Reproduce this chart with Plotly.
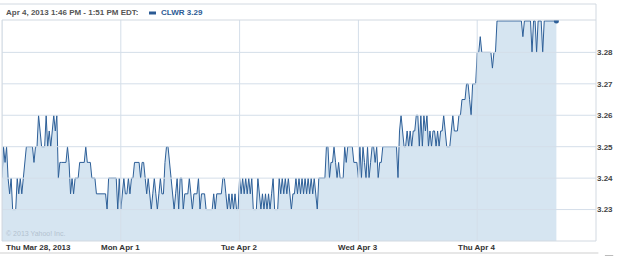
import plotly.graph_objects as go

# 5-minute quotes per trading day (9:30 onward)
mar28 = [3.24, 3.25, 3.245, 3.25, 3.24, 3.235, 3.24, 3.23, 3.23, 3.23,
         3.24, 3.235, 3.24, 3.235, 3.24, 3.245, 3.25, 3.25, 3.25, 3.25,
         3.25, 3.245, 3.25, 3.25, 3.26, 3.255, 3.25, 3.25, 3.25, 3.26,
         3.25, 3.255, 3.25, 3.255, 3.26, 3.255, 3.26, 3.24, 3.245, 3.245,
         3.245, 3.245, 3.245, 3.25, 3.245, 3.235, 3.24, 3.235, 3.24, 3.24,
         3.24, 3.245, 3.245, 3.245, 3.245, 3.25, 3.245, 3.245, 3.245, 3.24,
         3.24, 3.24, 3.235, 3.235, 3.235, 3.235, 3.235, 3.235, 3.235, 3.23,
         3.24, 3.24, 3.24, 3.24, 3.24, 3.24, 3.23, 3.24]
apr1 = [3.23, 3.235, 3.24, 3.235, 3.235, 3.24, 3.235, 3.24, 3.24, 3.245,
        3.245, 3.245, 3.245, 3.24, 3.245, 3.245, 3.24, 3.235, 3.24, 3.235,
        3.23, 3.235, 3.24, 3.235, 3.23, 3.235, 3.24, 3.235, 3.235, 3.245,
        3.25, 3.25, 3.245, 3.24, 3.235, 3.23, 3.235, 3.24, 3.23, 3.24,
        3.24, 3.23, 3.235, 3.235, 3.235, 3.24, 3.235, 3.23, 3.235, 3.235,
        3.235, 3.24, 3.23, 3.235, 3.235, 3.235, 3.23, 3.23, 3.23, 3.23,
        3.23, 3.235, 3.23, 3.235, 3.235, 3.235, 3.235, 3.24, 3.24, 3.235,
        3.23, 3.235, 3.23, 3.235, 3.23, 3.235, 3.23, 3.23]
apr2 = [3.24, 3.235, 3.24, 3.235, 3.24, 3.235, 3.24, 3.235, 3.24, 3.23,
        3.23, 3.23, 3.24, 3.235, 3.23, 3.235, 3.23, 3.235, 3.23, 3.235,
        3.23, 3.235, 3.24, 3.23, 3.23, 3.23, 3.24, 3.235, 3.24, 3.235,
        3.24, 3.235, 3.24, 3.235, 3.23, 3.235, 3.235, 3.24, 3.235, 3.24,
        3.235, 3.24, 3.235, 3.24, 3.235, 3.24, 3.235, 3.24, 3.235, 3.24,
        3.235, 3.23, 3.24, 3.24, 3.24, 3.24, 3.24, 3.25, 3.25, 3.24,
        3.245, 3.245, 3.25, 3.245, 3.24, 3.245, 3.24, 3.24, 3.24, 3.25,
        3.245, 3.25, 3.25, 3.25, 3.25, 3.245, 3.245, 3.245]
apr3 = [3.24, 3.25, 3.24, 3.25, 3.245, 3.24, 3.25, 3.24, 3.245, 3.25,
        3.25, 3.245, 3.25, 3.24, 3.245, 3.245, 3.25, 3.25, 3.25, 3.25,
        3.25, 3.25, 3.25, 3.25, 3.25, 3.25, 3.24, 3.255, 3.26, 3.255,
        3.25, 3.25, 3.255, 3.25, 3.255, 3.25, 3.255, 3.255, 3.26, 3.26,
        3.25, 3.26, 3.25, 3.26, 3.255, 3.26, 3.25, 3.255, 3.25, 3.255,
        3.255, 3.25, 3.255, 3.25, 3.255, 3.255, 3.26, 3.255, 3.25, 3.25,
        3.25, 3.255, 3.26, 3.255, 3.255, 3.255, 3.26, 3.26, 3.265, 3.265,
        3.265, 3.27, 3.27, 3.265, 3.26, 3.27, 3.27, 3.27]
apr4 = [3.28, 3.28, 3.285, 3.28, 3.28, 3.28, 3.28, 3.28, 3.28, 3.28,
        3.275, 3.28, 3.28, 3.29, 3.29, 3.29, 3.29, 3.29, 3.29, 3.29,
        3.29, 3.29, 3.29, 3.29, 3.29, 3.29, 3.29, 3.29, 3.29, 3.29,
        3.285, 3.29, 3.29, 3.29, 3.29, 3.29, 3.28, 3.29, 3.29, 3.28,
        3.29, 3.29, 3.29, 3.28, 3.29, 3.29, 3.29, 3.29, 3.29, 3.29,
        3.29, 3.29, 3.29]

day_labels = ["Thu Mar 28, 2013", "Mon Apr 1", "Tue Apr 2", "Wed Apr 3", "Thu Apr 4"]
y_ticks = [3.23, 3.24, 3.25, 3.26, 3.27, 3.28]
steps_per_day = 78
header_text = "Apr 4, 2013 1:46 PM - 1:51 PM EDT:"
legend_text = "CLWR 3.29"

days = [mar28, apr1, apr2, apr3, apr4]
xs, ys = [], []
for d, vals in enumerate(days):
    for k, v in enumerate(vals):
        xs.append(d + k / steps_per_day)
        ys.append(v)

LINE = "#2d5f98"
GRID = "#d4dee9"
FRAME = "#d2d9e1"
FONT = "Liberation Sans"

fig = go.Figure()
fig.add_trace(go.Scatter(
    x=xs, y=ys, mode="lines",
    line=dict(color=LINE, width=1),
    fill="tozeroy", fillcolor="rgba(120,170,210,0.3)",
    hoverinfo="skip", showlegend=False,
))
fig.add_trace(go.Scatter(
    x=[xs[-1]], y=[ys[-1]], mode="markers",
    marker=dict(color=LINE, size=5), showlegend=False, hoverinfo="skip",
))

shapes = []
for t in y_ticks:
    shapes.append(dict(type="line", xref="paper", yref="y", x0=0, x1=1, y0=t, y1=t,
                       line=dict(color=GRID, width=1), layer="above"))
for d in range(len(day_labels)):
    shapes.append(dict(type="line", xref="x", yref="paper", x0=d, x1=d, y0=0, y1=1,
                       line=dict(color=GRID, width=1), layer="above"))

PH = 221.0
def py(px_from_top):
    # convert a pixel row to paper coords (plot spans rows 20..241)
    return (241 - px_from_top) / PH

# frame of plot and header box
shapes += [
    dict(type="rect", xref="paper", yref="paper", x0=0, x1=1, y0=0, y1=1,
         line=dict(color=FRAME, width=1), layer="above"),
    dict(type="line", xref="paper", yref="paper", x0=-0.01, x1=1, y0=py(4), y1=py(4),
         line=dict(color=FRAME, width=1)),
    dict(type="line", xref="paper", yref="paper", x0=1, x1=1, y0=1, y1=py(4),
         line=dict(color=FRAME, width=1)),
    dict(type="line", xref="paper", yref="paper", x0=-0.01, x1=1.004, y0=py(253), y1=py(253),
         line=dict(color="#cfcfcf", width=1)),
    dict(type="line", xref="paper", yref="paper", x0=1.015, x1=1.029, y0=py(255.5), y1=py(255.5),
         line=dict(color="#bbbbbb", width=1)),
    dict(type="rect", xref="paper", yref="paper", x0=(149 - 2) / 594, x1=(156 - 2) / 594,
         y0=py(14.5), y1=py(11.5), line=dict(width=0), fillcolor="#2b5a94"),
]

annotations = [
    dict(text=header_text, x=0.003, y=py(12.5), xref="paper", yref="paper",
         xanchor="left", yanchor="middle", showarrow=False,
         font=dict(family=FONT, size=8, color="#555555", weight="bold")),
    dict(text=legend_text, x=(159 - 2) / 594, y=py(12.5), xref="paper", yref="paper",
         xanchor="left", yanchor="middle", showarrow=False,
         font=dict(family=FONT, size=8, color="#2b5a94", weight="bold")),
    dict(text="© 2013 Yahoo! Inc.", x=0.004, y=py(233), xref="paper", yref="paper",
         xanchor="left", yanchor="middle", showarrow=False,
         font=dict(family=FONT, size=7, color="#b3c2d0")),
]
for d, lab in enumerate(day_labels):
    annotations.append(dict(
        text=lab, x=d, y=py(248), xref="x", yref="paper",
        xanchor="left" if d == 0 else "center", yanchor="middle", showarrow=False,
        xshift=2 if d == 0 else 0,
        font=dict(family=FONT, size=8, color="#333333", weight="bold")))

fig.update_layout(
    width=625, height=257,
    margin=dict(l=2, r=29, t=20, b=16),
    paper_bgcolor="white", plot_bgcolor="white",
    shapes=shapes, annotations=annotations,
    xaxis=dict(range=[0, 5], showgrid=False, zeroline=False, showticklabels=False,
               showline=False, fixedrange=True),
    yaxis=dict(range=[3.22, 3.2903], side="right", tickvals=y_ticks,
               ticktext=[f"{t:.2f}" for t in y_ticks],
               showgrid=False, zeroline=False, ticks="", ticklen=0,
               tickfont=dict(family=FONT, size=8, color="#444444", weight="bold")),
    font=dict(family=FONT),
)

fig.write_html("out.html")
